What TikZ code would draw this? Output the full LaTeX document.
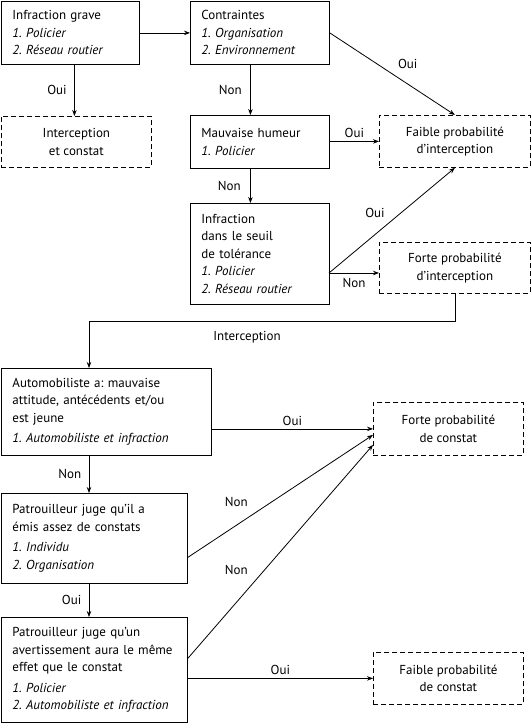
\documentclass[tikz,border=0pt]{standalone}
\usepackage{fontspec}
\setmainfont{PT Sans}
\usetikzlibrary{arrows.meta}
\frenchspacing

\begin{document}
\begin{tikzpicture}[x=1pt, y=-1pt, line width=0.8pt,
  font=\fontsize{13}{17.5}\selectfont,
  cond/.style={draw, rectangle, anchor=north west, align=left, inner xsep=11pt, inner ysep=0pt},
  issue/.style={draw, rectangle, dash pattern=on 5pt off 3pt, anchor=north west, align=center, inner sep=0pt},
  arr/.style={-{Stealth[length=6pt, width=4.5pt]}}]
\useasboundingbox (0,0) rectangle (531,723);

% boites de decision
\node[cond, minimum width=138, minimum height=63, text width=116] (grave) at (1,1)
  {Infraction grave\\ \textit{1. Policier}\\ \textit{2. Réseau routier}};
\node[cond, minimum width=139, minimum height=63, text width=117] (contr) at (190,1)
  {Contraintes\\ \textit{1. Organisation}\\ \textit{2. Environnement}};
\node[cond, minimum width=139, minimum height=53, text width=117] (humeur) at (190,115)
  {Mauvaise humeur\\ \textit{1. Policier}};
\node[cond, minimum width=139, minimum height=101, text width=117] (seuil) at (190,203)
  {Infraction\\ dans le seuil\\ de tolérance\\ \textit{1. Policier}\\ \textit{2. Réseau routier}};
\node[cond, minimum width=210, minimum height=87, text width=188] (auto) at (1,368)
  {Automobiliste a: mauvaise\\ attitude, antécédents et/ou\\ est jeune\\[3pt] \textit{1. Automobiliste et infraction}};
\node[cond, minimum width=186, minimum height=90, text width=164] (patr1) at (1,493)
  {Patrouilleur juge qu’il a\\ émis assez de constats\\[3pt] \textit{1. Individu}\\ \textit{2. Organisation}};
\node[cond, minimum width=186, minimum height=105, text width=164] (patr2) at (1,617)
  {Patrouilleur juge qu’un\\ avertissement aura le même\\ effet que le constat\\[3pt] \textit{1. Policier}\\ \textit{2. Automobiliste et infraction}};

% issues
\node[issue, minimum width=150, minimum height=51] (intcst) at (1,116) {Interception\\ et constat};
\node[issue, minimum width=151, minimum height=52] (faibleint) at (379,115) {Faible probabilité\\ d’interception};
\node[issue, minimum width=151, minimum height=51] (forteint) at (379,242) {Forte probabilité\\ d’interception};
\node[issue, minimum width=150, minimum height=53] (forteconst) at (373,402) {Forte probabilité\\ de constat};
\node[issue, minimum width=150, minimum height=52] (faibleconst) at (373,652) {Faible probabilité\\ de constat};

\coordinate (sout) at (329,273);
\coordinate (turn) at (89,321);

\draw[arr] (grave) -- (contr);
\draw[arr] ([xshift=4pt]grave.south) -- node[left=4pt] {Oui} ([xshift=4pt]grave.south |- intcst.north);
\draw[arr] ([xshift=-9.5pt]contr.south) -- node[left=5pt] {Non} ([xshift=-9.5pt]contr.south |- humeur.north);
\draw[arr] (contr.east) -- node[above right=2pt, pos=0.5] {Oui} (faibleint.north);
\draw[arr] (humeur.east |- faibleint) -- node[above] {Oui} (faibleint.west);
\draw[arr] ([xshift=-9.5pt]humeur.south) -- node[left=6pt] {Non} ([xshift=-9.5pt]humeur.south |- seuil.north);
\draw[arr] (sout) -- node[below=2pt] {Non} (sout -| forteint.west);
\draw[arr] (sout) -- node[above left=1pt, pos=0.48] {Oui} (faibleint.south);
\draw[arr] (forteint.south) |- node[pos=0.784, below=7pt] {Interception} (turn) -- (turn |- auto.north);
\draw[arr] (auto.east |- forteconst) -- node[above] {Oui} (forteconst.west);
\draw[arr] (auto.south -| turn) -- node[left=4pt] {Non} (patr1.north -| turn);
\draw[arr] ([yshift=-19pt]patr1.east) -- node[above left=3pt, pos=0.36] {Non} ([yshift=-6pt]forteconst.west);
\draw[arr] (patr1.south -| turn) -- node[left=4pt] {Oui} (patr2.north -| turn);
\draw[arr] ([yshift=11.5pt]patr2.east) -- node[above left=3pt, pos=0.36] {Non} ([yshift=-16pt]forteconst.west);
\draw[arr] (patr2.east |- faibleconst) -- node[above] {Oui} (faibleconst.west);
\end{tikzpicture}
\end{document}
